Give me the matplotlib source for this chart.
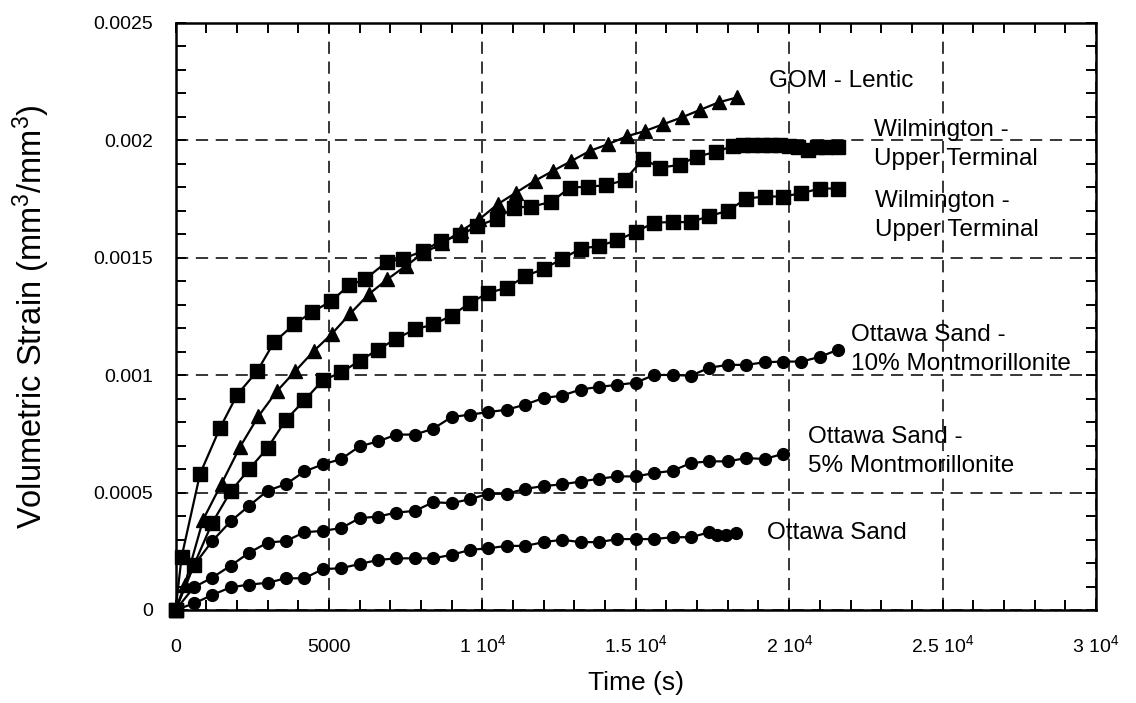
import matplotlib
matplotlib.use("Agg")
import matplotlib.pyplot as plt
from matplotlib.ticker import MultipleLocator, FixedLocator

plt.rcParams['font.family'] = ['Liberation Sans', 'DejaVu Sans']
plt.rcParams['mathtext.default'] = 'regular'

# GOM - Lentic (triangles)
gom_t = [0, 300, 900, 1500, 2100, 2700, 3300, 3900, 4500, 5100, 5700, 6300,
         6900, 7500, 8100, 8700, 9300, 9900, 10500, 11100, 11700, 12300,
         12900, 13500, 14100, 14700, 15300, 15900, 16500, 17100, 17700, 18300]
gom_v = [0, 0.000107, 0.000385, 0.000538, 0.000694, 0.000825, 0.000931,
         0.001017, 0.001102, 0.001177, 0.001263, 0.001345, 0.001408, 0.001465,
         0.001522, 0.001561, 0.001614, 0.001664, 0.001728, 0.001778, 0.001827,
         0.00187, 0.001912, 0.001955, 0.001984, 0.002017, 0.00204, 0.002069,
         0.002098, 0.00213, 0.002162, 0.002183]

# Wilmington - Upper Terminal, first test (squares)
wila_t = [0, 200, 800, 1450, 2010, 2660, 3210, 3860, 4440, 5070, 5650, 6190,
          6880, 7420, 8070, 8640, 9270, 9830, 10480, 11030, 11600, 12250,
          12850, 13450, 14040, 14640, 15240, 15800, 16430, 16980, 17630, 18170,
          18500, 18800, 19100, 19400, 19700, 20000, 20300, 20600, 20900, 21200,
          21600]
wila_v = [0, 0.000227, 0.00058, 0.000775, 0.000917, 0.001017, 0.00114,
          0.001216, 0.001268, 0.001315, 0.001382, 0.00141, 0.001482, 0.001496,
          0.001529, 0.001571, 0.001595, 0.001635, 0.001667, 0.001714, 0.001718,
          0.001738, 0.001799, 0.001803, 0.001809, 0.001831, 0.00192, 0.001884,
          0.001896, 0.001931, 0.001951, 0.001977, 0.00198, 0.00198, 0.00198,
          0.00198, 0.00198, 0.001975, 0.00197, 0.00196, 0.00197, 0.00197,
          0.00197]

# Wilmington - Upper Terminal, second test (squares)
wilb_t = [0, 600, 1200, 1800, 2400, 3000, 3600, 4200, 4800, 5400, 6000, 6600,
          7200, 7800, 8400, 9000, 9600, 10200, 10800, 11400, 12000, 12600,
          13200, 13800, 14400, 15000, 15600, 16200, 16800, 17400, 18000, 18600,
          19200, 19800, 20400, 21000, 21600]
wilb_v = [0, 0.000192, 0.000372, 0.000505, 0.0006, 0.00069, 0.00081,
          0.000893, 0.000978, 0.001012, 0.001061, 0.001109, 0.001156, 0.001195,
          0.001216, 0.001254, 0.001308, 0.001351, 0.001372, 0.001422, 0.001453,
          0.001495, 0.001539, 0.00155, 0.001575, 0.00161, 0.00165, 0.001652,
          0.001652, 0.001678, 0.0017, 0.001752, 0.001761, 0.001761, 0.001775,
          0.001795, 0.001795]

# Ottawa Sand - 10% Montmorillonite (circles)
ott10_t = [0, 600, 1200, 1800, 2400, 3000, 3600, 4200, 4800, 5400, 6000, 6600,
           7200, 7800, 8400, 9000, 9600, 10200, 10800, 11400, 12000, 12600,
           13200, 13800, 14400, 15000, 15600, 16200, 16800, 17400, 18000,
           18600, 19200, 19800, 20400, 21000, 21600]
ott10_v = [0, 0.00019, 0.000294, 0.000378, 0.000444, 0.000508, 0.000536,
           0.00059, 0.00062, 0.000643, 0.000697, 0.000718, 0.000747, 0.000747,
           0.000772, 0.000822, 0.000832, 0.000843, 0.000853, 0.000875, 0.000903,
           0.000913, 0.000939, 0.00095, 0.000959, 0.000968, 0.001001, 0.001001,
           0.000998, 0.001032, 0.001044, 0.001044, 0.001055, 0.001058, 0.001058,
           0.001078, 0.001109]

# Ottawa Sand - 5% Montmorillonite (circles)
ott5_t = [0, 600, 1200, 1800, 2400, 3000, 3600, 4200, 4800, 5400, 6000, 6600,
          7200, 7800, 8400, 9000, 9600, 10200, 10800, 11400, 12000, 12600,
          13200, 13800, 14400, 15000, 15600, 16200, 16800, 17400, 18000, 18600,
          19200, 19800]
ott5_v = [0, 0.000097, 0.000138, 0.000189, 0.000244, 0.000287, 0.000294,
          0.000331, 0.000337, 0.000349, 0.000391, 0.000398, 0.000415, 0.000422,
          0.000459, 0.000455, 0.000472, 0.000495, 0.000495, 0.000516, 0.000528,
          0.000535, 0.000547, 0.000559, 0.000569, 0.000569, 0.000583, 0.000593,
          0.000626, 0.000633, 0.000633, 0.000647, 0.000643, 0.000665]

# Ottawa Sand (circles)
ott0_t = [0, 600, 1200, 1800, 2400, 3000, 3600, 4200, 4800, 5400, 6000, 6600,
          7200, 7800, 8400, 9000, 9600, 10200, 10800, 11400, 12000, 12600,
          13200, 13800, 14400, 15000, 15600, 16200, 16800, 17400, 17640, 17940,
          18280]
ott0_v = [0, 0.000028, 0.000064, 0.000097, 0.000108, 0.000116, 0.000135,
          0.000135, 0.000174, 0.000178, 0.000196, 0.000213, 0.00022, 0.00022,
          0.00022, 0.000235, 0.000256, 0.000263, 0.000273, 0.000273, 0.000289,
          0.000299, 0.000289, 0.000289, 0.000302, 0.000302, 0.000302, 0.00031,
          0.00031, 0.000331, 0.00032, 0.00032, 0.000327]

xtick_vals = [0, 5000, 10000, 15000, 20000, 25000, 30000]
xtick_text = ['0', '5000', '1 10$^{4}$', '1.5 10$^{4}$', '2 10$^{4}$',
              '2.5 10$^{4}$', '3 10$^{4}$']
ytick_vals = [0, 0.0005, 0.001, 0.0015, 0.002, 0.0025]
ytick_text = ['0', '0.0005', '0.001', '0.0015', '0.002', '0.0025']

fig = plt.figure(figsize=(11.36, 7.03), dpi=100)
ax = fig.add_axes([0.1545, 0.1323, 0.8103, 0.835])

line_kw = dict(color='black', lw=1.6, markerfacecolor='black',
               markeredgecolor='black', clip_on=False, zorder=3)
ax.plot(gom_t, gom_v, marker='^', ms=9.5, **line_kw)
ax.plot(wila_t, wila_v, marker='s', ms=9.5, **line_kw)
ax.plot(wilb_t, wilb_v, marker='s', ms=9.5, **line_kw)
ax.plot(ott10_t, ott10_v, marker='o', ms=8.5, **line_kw)
ax.plot(ott5_t, ott5_v, marker='o', ms=8.5, **line_kw)
ax.plot(ott0_t, ott0_v, marker='o', ms=8.5, **line_kw)

ax.set_xlim(0, 30000)
ax.set_ylim(0, 0.0025)
ax.xaxis.set_major_locator(FixedLocator(xtick_vals))
ax.set_xticklabels(xtick_text)
ax.yaxis.set_major_locator(FixedLocator(ytick_vals))
ax.set_yticklabels(ytick_text)
ax.xaxis.set_minor_locator(MultipleLocator(1000))
ax.yaxis.set_minor_locator(MultipleLocator(0.0001))

ax.grid(True, which='major', color='black', lw=1.1, linestyle=(0, (8, 5)))
ax.set_axisbelow(True)

for s in ax.spines.values():
    s.set_linewidth(1.8)

ax.tick_params(which='both', direction='in', top=True, right=True,
               length=7, width=1.4, color='black')
ax.tick_params(axis='x', which='major', pad=30, labelsize=14)
ax.tick_params(axis='y', which='major', pad=16, labelsize=14)
for lab in ax.get_xticklabels():
    lab.set_verticalalignment('baseline')

ax.set_xlabel('Time (s)', fontsize=19, labelpad=11)
ax.set_ylabel('Volumetric Strain (mm$^{3}$/mm$^{3}$)', fontsize=23.5)
ax.yaxis.set_label_coords(-0.134, 0.5)

note_kw = dict(fontsize=17.5, ha='left', va='center', linespacing=1.4)
ax.text(19330, 0.002252, 'GOM - Lentic', **note_kw)
ax.text(22750, 0.001984, 'Wilmington -\nUpper Terminal', **note_kw)
ax.text(22810, 0.001681, 'Wilmington -\nUpper Terminal', **note_kw)
ax.text(22020, 0.001109, 'Ottawa Sand -\n10% Montmorillonite', **note_kw)
ax.text(20620, 0.000675, 'Ottawa Sand -\n5% Montmorillonite', **note_kw)
ax.text(19265, 0.000327, 'Ottawa Sand', **note_kw)

fig.savefig('out.png', dpi=100)
